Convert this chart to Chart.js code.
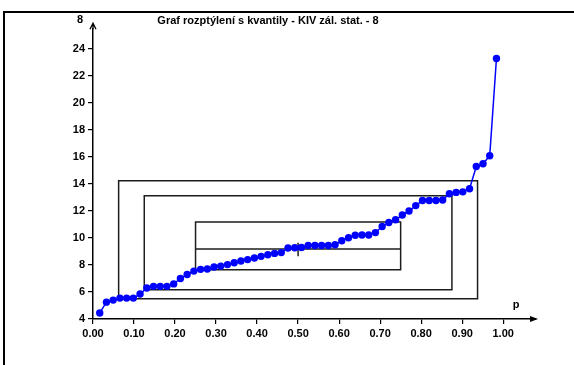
<!DOCTYPE html>
<html>
<head>
<meta charset="utf-8">
<script src="https://cdn.jsdelivr.net/npm/chart.js@4/dist/chart.umd.min.js"></script>
<style>
  html, body { margin: 0; padding: 0; background: #fff; }
  #wrap { position: relative; width: 574px; height: 365px; }
</style>
</head>
<body>
<div id="wrap"><canvas id="c" width="574" height="365"></canvas></div>
<script>
// Titles and axis names
const chartTitle = 'Graf rozptýlení s kvantily - KIV zál. stat. - 8';
const yName = '8';
const xName = 'p';

// Ordered sample values (60 observations)
const sortedValues = [
  4.45, 5.25, 5.40, 5.55, 5.55, 5.55, 5.85, 6.30, 6.42, 6.42,
  6.42, 6.60, 7.00, 7.30, 7.55, 7.68, 7.70, 7.85, 7.92, 8.03,
  8.17, 8.30, 8.40, 8.52, 8.64, 8.76, 8.86, 8.92, 9.26, 9.28,
  9.30, 9.45, 9.45, 9.45, 9.45, 9.50, 9.80, 10.02, 10.20, 10.22,
  10.22, 10.40, 10.85, 11.15, 11.35, 11.70, 12.00, 12.40, 12.78, 12.78,
  12.78, 12.82, 13.28, 13.38, 13.42, 13.65, 15.30, 15.50, 16.10, 23.30
];

// Quantile boxes: lower probability level, lower and upper quantile
const boxLevels = [0.0625, 0.125, 0.25];
const boxLowerQ = [5.50, 6.17, 7.65];
const boxUpperQ = [14.24, 13.13, 11.19];
const medianValue = 9.19;
const markerRange = [8.65, 9.65];

// Axis ticks
const xTicks = [0, 0.1, 0.2, 0.3, 0.4, 0.5, 0.6, 0.7, 0.8, 0.9, 1.0];
const yTicks = [4, 6, 8, 10, 12, 14, 16, 18, 20, 22, 24];

// Plotting positions i/(n+1)
const nObs = sortedValues.length;
const points = sortedValues.map((v, i) => ({ x: (i + 1) / (nObs + 1), y: v }));

const lineColor = '#1c1c1c';
const boxSets = boxLevels.map((p, k) => ({
  data: [
    { x: p, y: boxLowerQ[k] }, { x: p, y: boxUpperQ[k] },
    { x: 1 - p, y: boxUpperQ[k] }, { x: 1 - p, y: boxLowerQ[k] },
    { x: p, y: boxLowerQ[k] }
  ],
  showLine: true, borderColor: lineColor, borderWidth: 1.5,
  pointRadius: 0, tension: 0, order: 2
}));

const medianSet = {
  data: [{ x: boxLevels[2], y: medianValue }, { x: 1 - boxLevels[2], y: medianValue }],
  showLine: true, borderColor: lineColor, borderWidth: 1.5, pointRadius: 0, order: 2
};
const markerSet = {
  data: [{ x: 0.5, y: markerRange[0] }, { x: 0.5, y: markerRange[1] }],
  showLine: true, borderColor: lineColor, borderWidth: 1.5, pointRadius: 0, order: 2
};
const dataSet = {
  data: points,
  showLine: true, borderColor: '#0000ff', borderWidth: 1.5,
  pointRadius: 3.7, pointBackgroundColor: '#0000ff', pointBorderColor: '#0000ff',
  pointBorderWidth: 0, tension: 0, order: 0
};

const fontFamily = 'Liberation Sans, Arial, sans-serif';
const tickFont = { family: fontFamily, size: 11, weight: 'bold' };

// Frame, axis arrows and axis names
const decorations = {
  id: 'decorations',
  afterDraw(chart) {
    const { ctx, chartArea } = chart;
    ctx.save();
    ctx.strokeStyle = '#000';
    ctx.lineWidth = 2;
    ctx.beginPath();
    ctx.moveTo(4, 365); ctx.lineTo(4, 12); ctx.lineTo(574, 12);
    ctx.stroke();

    ctx.fillStyle = '#000';
    ctx.lineWidth = 1.3;
    // y arrow
    const ax = chartArea.left, ay = chartArea.top;
    ctx.beginPath();
    ctx.moveTo(ax, ay); ctx.lineTo(ax, ay - 6);
    ctx.moveTo(ax - 3, ay); ctx.lineTo(ax, ay - 6); ctx.lineTo(ax + 3, ay);
    ctx.stroke();
    // x arrow
    const bx = chartArea.right, by = chartArea.bottom;
    ctx.beginPath();
    ctx.moveTo(bx + 2, by); ctx.lineTo(bx - 6, by - 3); ctx.lineTo(bx - 6, by + 3); ctx.closePath();
    ctx.fill();

    ctx.font = 'bold 11px ' + fontFamily;
    ctx.textAlign = 'center';
    ctx.textBaseline = 'middle';
    ctx.fillText(yName, 80, 20);
    ctx.fillText(xName, 516, 305);
    ctx.restore();
  }
};

new Chart(document.getElementById('c'), {
  type: 'scatter',
  data: { datasets: [dataSet, ...boxSets, medianSet, markerSet] },
  options: {
    responsive: false,
    animation: false,
    devicePixelRatio: 1,
    layout: { padding: { left: 0, right: 38, top: 0, bottom: 0 } },
    plugins: {
      legend: { display: false },
      tooltip: { enabled: false },
      title: {
        display: true, text: chartTitle, color: '#000',
        font: { family: fontFamily, size: 11, weight: 'bold' },
        padding: { top: 14, bottom: 2 }
      }
    },
    scales: {
      x: {
        type: 'linear', min: 0, max: 1.08,
        afterBuildTicks: s => { s.ticks = xTicks.map(v => ({ value: v })); },
        afterFit: s => { s.height = 46; },
        ticks: {
          color: '#000', font: tickFont, padding: 3, maxRotation: 0, autoSkip: false,
          callback: v => Number(v).toFixed(2)
        },
        grid: { drawOnChartArea: false, drawTicks: true, tickLength: 5, color: '#000', lineWidth: 1.2 },
        border: { display: true, color: '#000', width: 1.5 }
      },
      y: {
        type: 'linear', min: 4, max: 25.47,
        afterBuildTicks: s => { s.ticks = yTicks.map(v => ({ value: v })); },
        afterFit: s => { s.width = 93; },
        ticks: { color: '#000', font: tickFont, padding: 3, autoSkip: false, callback: v => String(v) },
        grid: { drawOnChartArea: false, drawTicks: true, tickLength: 5, color: '#000', lineWidth: 1.2 },
        border: { display: true, color: '#000', width: 1.5 }
      }
    }
  },
  plugins: [decorations]
});
</script>
</body>
</html>
